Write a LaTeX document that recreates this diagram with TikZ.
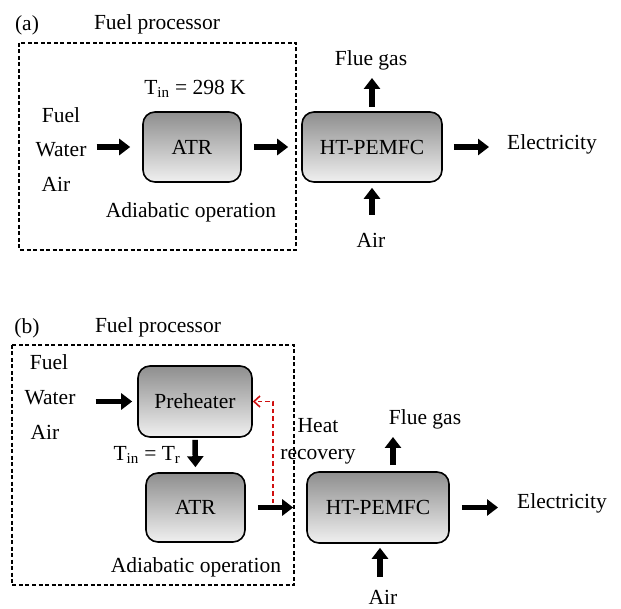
\documentclass[tikz,border=0pt]{standalone}
\usepackage{fontspec}
\setmainfont{Liberation Serif}
\usetikzlibrary{arrows.meta, positioning}
\definecolor{pgray}{HTML}{8E8E8E}
\definecolor{plight}{HTML}{F0F0F0}
\definecolor{hred}{HTML}{D01010}
\newcommand{\fs}{\fontsize{21.5}{27}\selectfont}
\tikzset{
  unit/.style={draw=black, line width=1.6pt, rounded corners=12pt,
               top color=pgray, bottom color=plight,
               minimum width=98pt, minimum height=70pt, font=\fs, inner sep=0pt},
  lbl/.style={inner sep=0pt, font=\fs},
  blk/.style={line width=5.5pt, -{Triangle[length=11pt,width=16pt]}},
  heat/.style={hred, line width=1.6pt, dash pattern=on 4.5pt off 3pt,
               -{Straight Barb[length=6pt,width=11pt]}},
  fpbox/.style={line width=1.3pt, dash pattern=on 4pt off 2.5pt},
}

\begin{document}
\begin{tikzpicture}[x=1pt, y=-1pt]
  \useasboundingbox (0,0) rectangle (621,609);

  % (a) fuel processor at room temperature
  \node[lbl] (tag-a) at (27,25) {(a)};
  \node[lbl] (fp-a) at (157,24) {Fuel processor};
  \draw[fpbox] (19,43) rectangle (296,250);
  \node[lbl] (tin-a) at (195,89) {T\textsubscript{in} = 298 K};
  \node[lbl] (fuel-a) at (61,115) {Fuel};
  \node[lbl] (water-a) at (61,150) {Water};
  \node[lbl] (air-a) at (56,184) {Air};
  \node[unit] (atr-a) at (192,147) {ATR};
  \node[lbl] (adia-a) at (191,212) {Adiabatic operation};
  \node[unit, minimum width=140pt] (fc-a) at (372,147) {HT-PEMFC};
  \node[lbl] (flue-a) at (371,60) {Flue gas};
  \node[lbl] (air2-a) at (371,240) {Air};
  \node[lbl] (elec-a) at (552,144) {Electricity};

  \draw[blk, shorten <=10pt, shorten >=12pt] (atr-a.west -| water-a.east) -- (atr-a.west);
  \draw[blk, shorten <=12pt, shorten >=13pt] (atr-a.east) -- (fc-a.west);
  \draw[blk, shorten <=11pt, shorten >=18pt] (fc-a.east) -- (fc-a.east -| elec-a.west);
  \draw[blk, shorten <=4pt, shorten >=8pt] (fc-a.north) -- (fc-a.north |- flue-a.south);
  \draw[blk, shorten <=18pt, shorten >=5pt] (fc-a.south |- air2-a.north) -- (fc-a.south);

  % (b) fuel processor with preheating
  \node[lbl] (tag-b) at (27,328) {(b)};
  \node[lbl] (fp-b) at (158,327) {Fuel processor};
  \draw[fpbox] (12,345) rectangle (294,585);
  \node[lbl] (fuel-b) at (49,362) {Fuel};
  \node[lbl] (water-b) at (50,398) {Water};
  \node[lbl] (air-b) at (45,432) {Air};
  \node[unit, minimum width=114pt, minimum height=71pt] (pre-b) at (195,401.5) {Preheater};
  \node[lbl] (tin-b) at (147,455) {T\textsubscript{in} = T\textsubscript{r}};
  \node[unit, minimum width=99pt, minimum height=69pt] (atr-b) at (195.5,507.5) {ATR};
  \node[lbl] (adia-b) at (196,567) {Adiabatic operation};
  \node[unit, minimum width=142pt, minimum height=71pt] (fc-b) at (378,507.5) {HT-PEMFC};
  \node[lbl, align=center] (heat-b) at (318,441) {Heat\\recovery};
  \node[lbl] (flue-b) at (425,419) {Flue gas};
  \node[lbl] (air2-b) at (383,597) {Air};
  \node[lbl] (elec-b) at (562,503) {Electricity};
  \coordinate (tap-b) at (273,503);

  \draw[blk, shorten <=20pt, shorten >=5pt] (pre-b.west -| water-b.east) -- (pre-b.west);
  \draw[blk, shorten <=2pt, shorten >=5pt] (pre-b.south) -- (atr-b.north);
  \draw[blk, shorten <=12pt, shorten >=13pt] (atr-b.east) -- (fc-b.west);
  \draw[blk, shorten <=12pt, shorten >=19pt] (fc-b.east) -- (fc-b.east -| elec-b.west);
  \draw[blk, shorten <=6pt, shorten >=8pt] ([xshift=15pt]fc-b.north) -- ([xshift=15pt]fc-b.north |- flue-b.south);
  \draw[blk, shorten <=13pt, shorten >=4pt] ([xshift=-3pt]air2-b.north) -- ([xshift=-3pt]air2-b.north |- fc-b.south);
  \draw[heat] (tap-b) |- (pre-b.east);
\end{tikzpicture}
\end{document}
